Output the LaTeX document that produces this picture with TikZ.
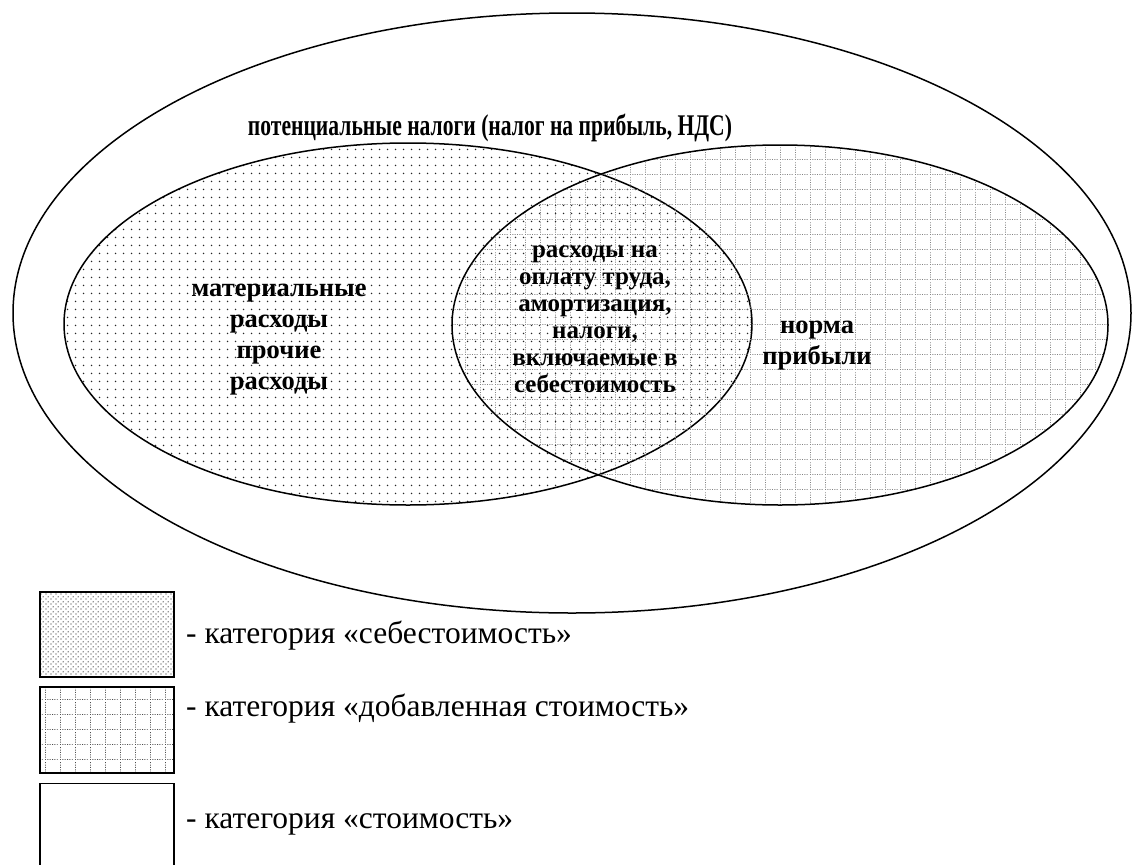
\documentclass[tikz,border=0pt]{standalone}
\usepackage{fontspec}
\setmainfont{Liberation Serif}
\newfontfamily\titlefont[FakeStretch=0.72]{Liberation Serif}
\usepackage{tikz}
\usetikzlibrary{patterns.meta, shapes.geometric, positioning}
% fill patterns of the two categories
\tikzdeclarepattern{
  name=costdots, type=uncolored,
  bounding box={(0pt,0pt) and (8pt,8pt)},
  tile size={(8pt,8pt)},
  code={\fill (4pt,4pt) circle (0.95pt);}
}
\tikzdeclarepattern{
  name=costdotsfine, type=uncolored,
  bounding box={(0pt,0pt) and (5pt,5pt)},
  tile size={(5pt,5pt)},
  code={\fill (1.25pt,1.25pt) circle (0.75pt); \fill (3.75pt,3.75pt) circle (0.75pt);}
}
\tikzdeclarepattern{
  name=addedgrid, type=uncolored,
  bounding box={(0pt,0pt) and (15pt,15pt)},
  tile size={(15pt,15pt)},
  code={\draw[line width=0.9pt, dash pattern=on 1pt off 1.5pt] (0pt,0.5pt) -- (15pt,0.5pt) (0.5pt,0pt) -- (0.5pt,15pt);}
}

\begin{document}
\begin{tikzpicture}[
  x=1pt, y=1pt,
  set/.style      = {ellipse, draw, line width=1.5pt, inner sep=0pt},
  costset/.style  = {set, pattern=costdots, pattern color=black!85},
  addedset/.style = {set, pattern=addedgrid, pattern color=black!50},
  setlabel/.style = {align=center, inner sep=0pt, font=\bfseries\fontsize{26.5}{31}\selectfont},
  keybox/.style   = {draw, line width=1.5pt, minimum width=134, minimum height=85, inner sep=0pt},
  keytext/.style  = {anchor=west, inner sep=0pt, font=\fontsize{31.5}{36}\selectfont},
]
\useasboundingbox (0,0) rectangle (1133,-865);
% Sets
\node[set, minimum width=1118, minimum height=600] (valueset) at (572,-313) {};
\node[costset, minimum width=688, minimum height=362] (costset) at (408,-324) {};
\node[addedset, minimum width=656, minimum height=360] (addedset) at (780,-325) {};
% Labels
\node[setlabel, font=\titlefont\bfseries\fontsize{30}{34}\selectfont] (taxes) at (490,-128)
  {потенциальные налоги (налог на прибыль, НДС)};
\node[setlabel] (material) at (279,-340) {материальные\\расходы\\прочие\\расходы};
\node[setlabel, font=\bfseries\fontsize{25}{27}\selectfont] (labour) at (595,-319)
  {расходы на\\оплату труда,\\амортизация,\\налоги,\\включаемые в\\себестоимость};
\node[setlabel] (profit) at (817,-346) {норма\\прибыли};
% Legend
\node[keybox, pattern=costdotsfine, pattern color=black!85] (keycost) at (107,-634.5) {};
\node[keybox, pattern=addedgrid, pattern color=black!70, minimum height=86] (keyadded) at (107,-730) {};
\node[keybox] (keyvalue) at (107,-826) {};
\node[keytext] (keycosttext) at (186,-636) {- категория «себестоимость»};
\node[keytext] (keyaddedtext) at (186,-709) {- категория «добавленная стоимость»};
\node[keytext] (keyvaluetext) at (186,-824) {- категория «стоимость»};
\end{tikzpicture}
\end{document}
